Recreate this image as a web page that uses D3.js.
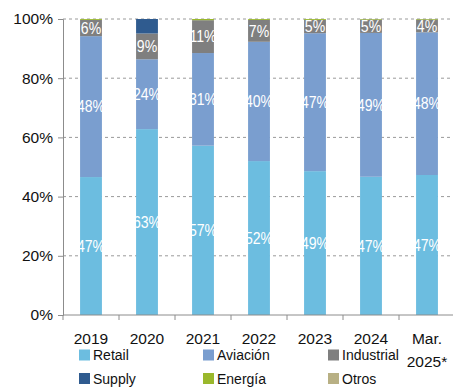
<!DOCTYPE html>
<html><head><meta charset="utf-8">
<script src="https://cdn.jsdelivr.net/npm/d3@7"></script>
<style>body{margin:0;background:#fff}svg{display:block}</style>
</head><body>
<script>
const categories = [["2019"],["2020"],["2021"],["2022"],["2023"],["2024"],["Mar.","2025*"]];
const seriesNames = ["Retail","Aviación","Industrial","Supply","Energía","Otros"];
const retail     = [46.6, 62.8, 57.2, 52.0, 48.6, 46.7, 47.3];
const aviacion   = [47.6, 23.6, 31.3, 40.3, 46.6, 48.6, 48.2];
const industrial = [5.5, 8.7, 11.1, 7.4, 4.5, 4.5, 4.3];
const supply     = [0, 4.9, 0, 0, 0, 0, 0];
const energia    = [0.3, 0, 0.4, 0.3, 0.3, 0.2, 0.2];
const otros      = [0, 0, 0, 0, 0, 0, 0];
const labeled    = ["Retail","Aviación","Industrial"];
const yTicks     = [0, 20, 40, 60, 80, 100];
const colors     = ["#6cbde0","#7a9ecf","#7f7f7f","#2f5b8f","#9ab82c","#b8b084"];

const W = 453, H = 388;
const svg = d3.select("body").append("svg").attr("width", W).attr("height", H);
const m = {l: 63, r: 0, t: 19, b: 73};
const x = d3.scaleBand().domain(d3.range(categories.length)).range([m.l, 455]).paddingInner(0.61).paddingOuter(0.305);
const y = d3.scaleLinear().domain([0, 100]).range([315, 19]);

const allSeries = [retail, aviacion, industrial, supply, energia, otros];
const rows = categories.map((c, i) => {
  const r = {i};
  const tot = d3.sum(allSeries, s => s[i]);
  seriesNames.forEach((n, k) => { r[n] = allSeries[k][i] / tot * 100; r["raw_" + n] = allSeries[k][i]; });
  return r;
});
const stack = d3.stack().keys(seriesNames)(rows);

// grid
svg.append("g").selectAll("line").data(yTicks.filter(t => t > 0)).join("line")
  .attr("x1", m.l).attr("x2", W).attr("y1", d => y(d)).attr("y2", d => y(d))
  .attr("stroke", "#9a9a9a").attr("stroke-width", 1).attr("stroke-dasharray", "3,3");

// bars
stack.forEach((layer, k) => {
  svg.append("g").selectAll("rect").data(layer).join("rect")
    .attr("x", (d, i) => x(i)).attr("width", x.bandwidth())
    .attr("y", d => y(d[1])).attr("height", d => Math.max(0, y(d[0]) - y(d[1])))
    .attr("fill", colors[k]);
});

// labels
stack.forEach((layer, k) => {
  const name = seriesNames[k];
  if (!labeled.includes(name)) return;
  svg.append("g").selectAll("text").data(layer).join("text")
    .attr("transform", (d, i) => `translate(${x(i) + x.bandwidth() / 2},${(y(d[0]) + y(d[1])) / 2}) scale(0.88,1)`)
    .attr("dy", "0.36em").attr("text-anchor", "middle")
    .attr("font-family", "'Liberation Sans Narrow','Liberation Sans',Arial,sans-serif")
    .attr("font-size", 16).attr("fill", "#fff")
    .text(d => Math.round(d.data["raw_" + name]) + "%");
});

// y axis
const ya = svg.append("g").attr("transform", `translate(${m.l},0)`)
  .call(d3.axisLeft(y).tickValues(yTicks).tickFormat(d => d + "%").tickSize(5).tickPadding(5));
ya.select(".domain").attr("stroke", "#8c8c8c");
ya.selectAll(".tick line").attr("stroke", "#8c8c8c");
ya.selectAll("text").attr("font-family", "'Liberation Sans',Arial,sans-serif").attr("font-size", 15.5).attr("fill", "#111");

// x axis
const xa = svg.append("g").attr("transform", `translate(0,315)`);
xa.append("line").attr("x1", m.l).attr("x2", 455).attr("y1", 0).attr("y2", 0).attr("stroke", "#8c8c8c");
const xb = x.step();
xa.selectAll("line.t").data(d3.range(categories.length)).join("line").attr("class","t")
  .attr("x1", i => x(i) - xb * 0.305).attr("x2", i => x(i) - xb * 0.305)
  .attr("y1", 0).attr("y2", 5).attr("stroke", "#8c8c8c");
xa.selectAll("text").data(categories).join("text")
  .attr("x", (d, i) => x(i) + x.bandwidth() / 2)
  .attr("y", 28.5).attr("text-anchor", "middle")
  .attr("font-family", "'Liberation Sans',Arial,sans-serif").attr("font-size", 15.5).attr("fill", "#111")
  .each(function(d) {
    d3.select(this).selectAll("tspan").data(d).join("tspan")
      .attr("x", d3.select(this).attr("x")).attr("dy", (t, j) => j === 0 ? 0 : 23).text(t => t);
  });

// legend
const legX = [79, 203, 328], legY = [355, 378.5];
const lg = svg.append("g").selectAll("g").data(seriesNames).join("g")
  .attr("transform", (d, i) => `translate(${legX[i % 3]},${legY[Math.floor(i / 3)]})`);
lg.append("rect").attr("x", 0).attr("y", -5.5).attr("width", 11).attr("height", 11).attr("fill", (d, i) => colors[i]);
lg.append("text").attr("x", 14).attr("y", 0).attr("dy", "0.36em")
  .attr("font-family", "'Liberation Sans',Arial,sans-serif").attr("font-size", 14).attr("fill", "#111")
  .text(d => d);
</script>
</body></html>
